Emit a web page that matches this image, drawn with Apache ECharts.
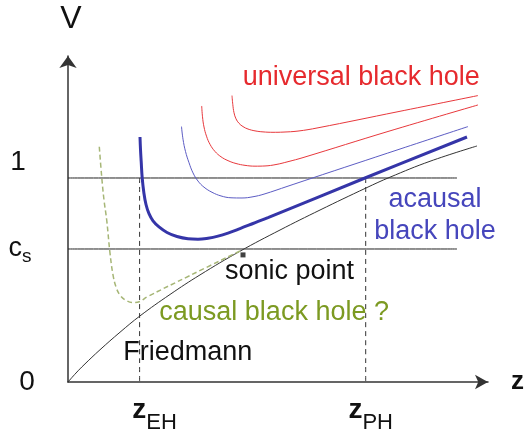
<!DOCTYPE html>
<html>
<head>
<meta charset="utf-8">
<script src="https://cdn.jsdelivr.net/npm/echarts@6/dist/echarts.min.js"></script>
<style>
  html, body { margin: 0; padding: 0; background: #fff; }
  #main { width: 529px; height: 436px; }
</style>
</head>
<body>
<div id="main"></div>
<script>
// 坐标：z 横轴，V 纵轴 (V=1 为光速)
const zMax = 4.2
const vMax = 1.598
const cs = 0.652
const zEH = 0.716
const zPH = 2.977
const lineEnd = 3.89

// Friedmann 曲线
const friedmann = [[0,0],[0.08,0.044],[0.16,0.084],[0.32,0.158],[0.52,0.244],[0.72,0.324],[1.02,0.429],
  [1.32,0.525],[1.72,0.641],[2.12,0.745],[2.52,0.843],[2.98,0.951],[3.22,1.004],[3.62,1.082],[4.09,1.157]]

// acausal black hole（粗蓝线）
const acausal = [[0.72,1.201],[0.725,1.14],[0.732,1.08],[0.742,1.0],[0.758,0.93],[0.78,0.87],[0.81,0.825],
  [0.85,0.79],[0.91,0.76],[0.99,0.733],[1.09,0.713],[1.2,0.702],[1.3,0.7],[1.4,0.705],[1.5,0.715],
  [1.6,0.73],[1.72,0.752],[1.85,0.777],[2.0,0.806],[2.97,1.0],[3.99,1.201]]

// 细蓝线
const acausalThin = [[1.135,1.252],[1.15,1.19],[1.175,1.13],[1.21,1.075],[1.25,1.025],[1.3,0.985],
  [1.36,0.955],[1.44,0.93],[1.53,0.912],[1.63,0.903],[1.74,0.902],[1.85,0.908],[1.96,0.921],
  [2.2,0.96],[2.42,0.996],[3.32,1.142],[4.0,1.252]]

// universal black hole（两条红线）
const universalLow = [[1.337,1.353],[1.345,1.3],[1.36,1.25],[1.385,1.205],[1.42,1.165],[1.47,1.13],
  [1.53,1.104],[1.6,1.085],[1.68,1.071],[1.77,1.062],[1.87,1.058],[1.97,1.059],[2.08,1.066],
  [2.2,1.08],[2.35,1.1],[3.2,1.228],[4.1,1.358]]
const universalHigh = [[1.64,1.404],[1.648,1.36],[1.66,1.32],[1.68,1.29],[1.71,1.268],[1.75,1.252],
  [1.8,1.24],[1.87,1.231],[1.95,1.226],[2.05,1.224],[2.15,1.225],[2.3,1.23],[2.5,1.246],
  [3.3,1.325],[4.1,1.404]]

// causal black hole ?（绿色虚线）
const causal = [[0.313,1.153],[0.337,1.006],[0.36,0.892],[0.387,0.794],[0.42,0.632],[0.45,0.525],
  [0.48,0.466],[0.52,0.426],[0.58,0.4],[0.65,0.389],[0.72,0.395],[0.79,0.417],[1.22,0.522],[1.72,0.642]]

const sonicPoint = [[1.75,0.623]]

const yTicks = [0, cs, 1]
const xTicks = [zEH, zPH]

const font = 'Liberation Sans, Arial, sans-serif'

let myChart = echarts.init(document.getElementById('main'))

function curve(data, color, width, type) {
  return {
    type: 'line', data: data, showSymbol: false, smooth: 0.4, silent: true,
    lineStyle: { color: color, width: width, type: type || 'solid' }
  }
}

function label(text, x, y, color, align) {
  return {
    type: 'text', x: x, y: y, silent: true,
    style: { text: text, fill: color, font: '27px ' + font, align: align || 'left', verticalAlign: 'middle' }
  }
}

let option = {
  animation: false,
  backgroundColor: '#fff',
  grid: { left: 68, top: 56, width: 420, height: 326 },
  xAxis: {
    type: 'value', min: 0, max: zMax,
    name: 'z', nameLocation: 'end', nameGap: 23,
    nameTextStyle: { fontFamily: font, fontSize: 26, fontWeight: 'bold', color: '#111', padding: [16, 0, 0, 0] },
    axisLine: { onZero: false, symbol: ['none', 'arrow'], symbolSize: [11, 13], lineStyle: { color: '#333', width: 1.5 } },
    axisTick: { show: false },
    splitLine: { show: false },
    axisLabel: {
      customValues: xTicks,
      margin: 14,
      formatter: function (v) {
        return v === zEH ? '{z1|z}{s|EH}' : '{z2|z}{s|PH}'
      },
      rich: {
        z1: { fontFamily: font, fontSize: 28, fontWeight: 'bold', color: '#111', lineHeight: 28, verticalAlign: 'top', padding: [0, 0, 0, 30] },
        z2: { fontFamily: font, fontSize: 28, fontWeight: 'bold', color: '#111', lineHeight: 28, verticalAlign: 'top', padding: [0, 0, 0, 10] },
        s: { fontFamily: font, fontSize: 22, color: '#111', lineHeight: 22, verticalAlign: 'top', padding: [16, 0, 0, 0] }
      }
    }
  },
  yAxis: {
    type: 'value', min: 0, max: vMax,
    name: 'V', nameLocation: 'end', nameGap: 21,
    nameTextStyle: { fontFamily: font, fontSize: 32, color: '#111', padding: [0, 0, 0, 6] },
    axisLine: { onZero: false, symbol: ['none', 'arrow'], symbolSize: [13, 12], lineStyle: { color: '#333', width: 1.5 } },
    axisTick: { show: false },
    splitLine: { show: false },
    axisLabel: {
      customValues: yTicks,
      margin: 48,
      align: 'center',
      formatter: function (v) {
        if (v === 0) return '{zero|0}'
        if (v === 1) return '{one|1}'
        return '{c|c}{s|s}'
      },
      rich: {
        zero: { fontFamily: font, fontSize: 28, color: '#111', padding: [0, 0, 0, 14] },
        one: { fontFamily: font, fontSize: 28, color: '#111', padding: [0, 4, 32, 0] },
        c: { fontFamily: font, fontSize: 27, color: '#111', lineHeight: 27, verticalAlign: 'top' },
        s: { fontFamily: font, fontSize: 19, color: '#111', lineHeight: 19, verticalAlign: 'top', padding: [12, 0, 0, 0] }
      }
    }
  },
  series: [
    curve([[0, 1], [lineEnd, 1]], '#222', 1),
    curve([[0, cs], [lineEnd, cs]], '#222', 1),
    curve([[zEH, 1], [zEH, 0]], '#333', 1, [5, 4]),
    curve([[zPH, 1], [zPH, 0]], '#333', 1, [5, 4]),
    curve(friedmann, '#333', 1),
    curve(causal, '#a6b676', 1.5, [5, 3]),
    curve(universalHigh, '#e8383c', 1),
    curve(universalLow, '#e8383c', 1),
    curve(acausalThin, '#5c5cc4', 1),
    curve(acausal, '#3535a8', 3),
    {
      type: 'scatter', data: sonicPoint, symbol: 'rect', symbolSize: 5, silent: true,
      itemStyle: { color: '#111' }
    }
  ],
  graphic: [
    label('universal black hole', 242.7, 77.6, '#e62a2e'),
    label('acausal', 435, 199.3, '#4646bc', 'center'),
    label('black hole', 435, 232, '#4646bc', 'center'),
    label('sonic point', 225, 272, '#111'),
    label('causal black hole ?', 159.3, 313, '#7c9a22'),
    label('Friedmann', 123.3, 353, '#111')
  ]
}

myChart.setOption(option)
</script>
</body>
</html>
